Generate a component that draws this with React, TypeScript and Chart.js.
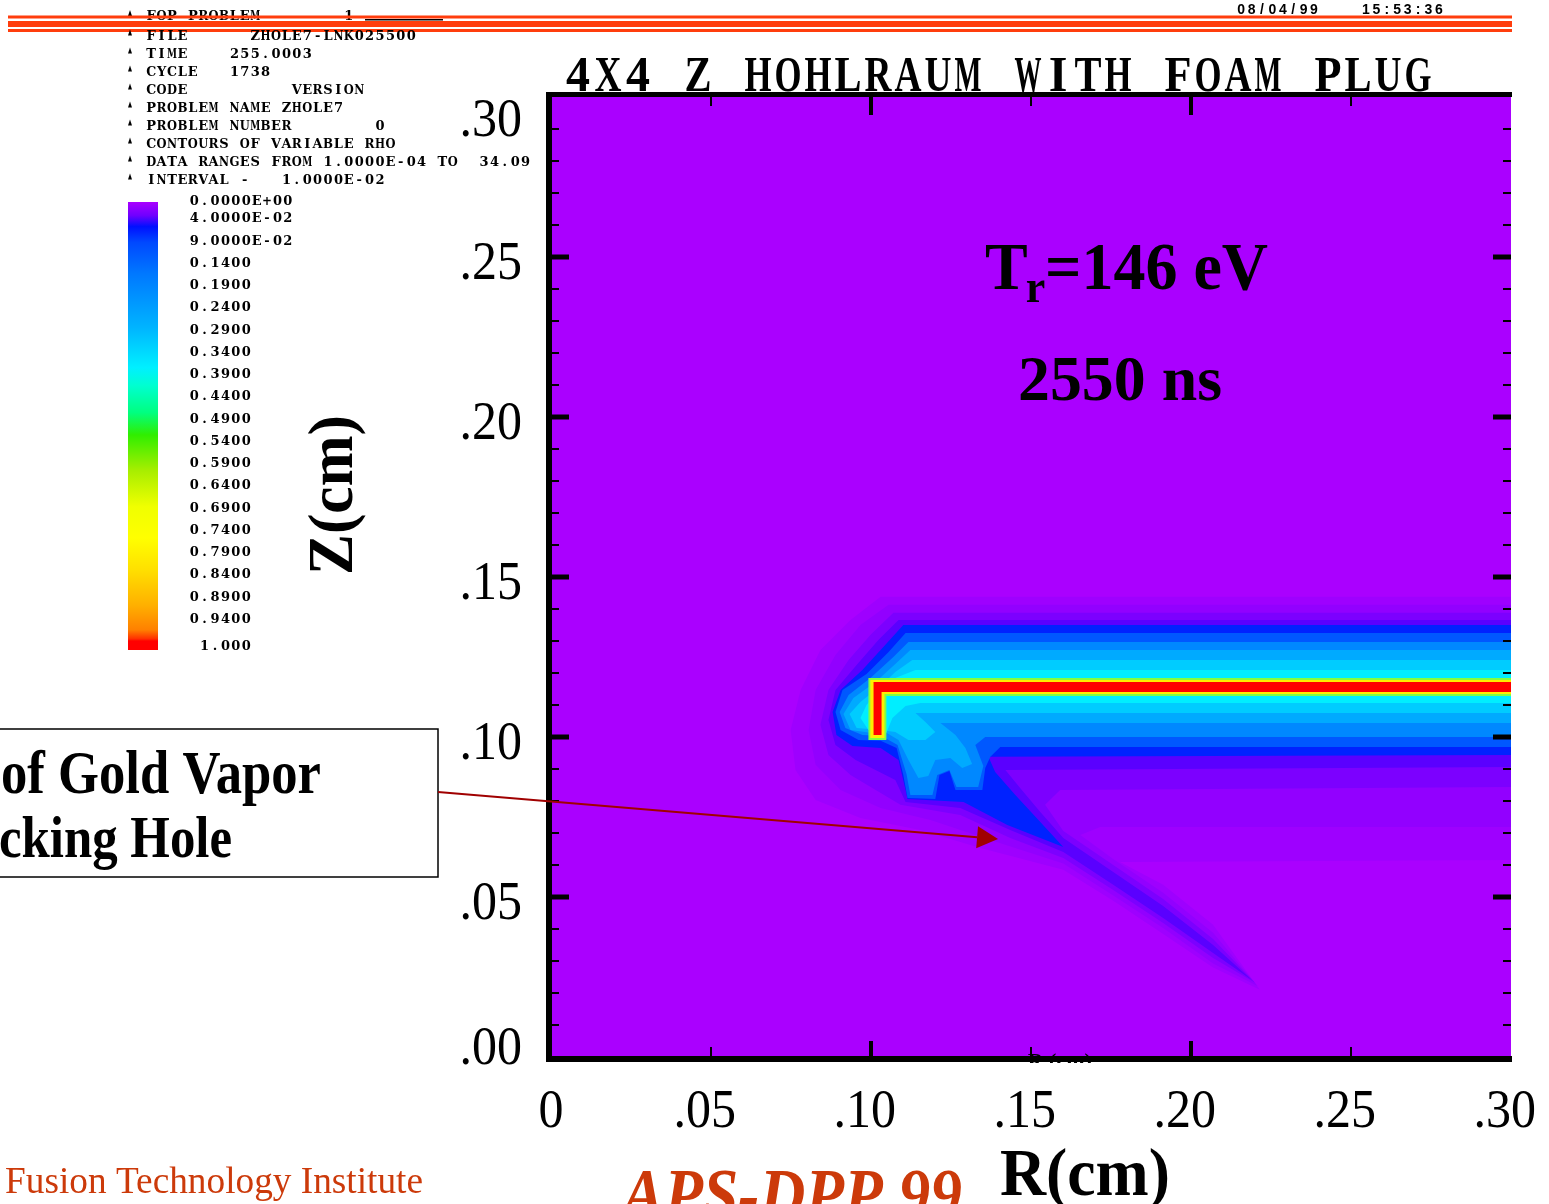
import React, { useEffect, useRef } from "react";
import { Chart, registerables } from "chart.js";

Chart.register(...registerables);

// ---------------- axes ----------------
const rTickValues = [0, 0.05, 0.1, 0.15, 0.2, 0.25, 0.3];
const rTickLabels = ["0", ".05", ".10", ".15", ".20", ".25", ".30"];
const zTickValues = [0, 0.05, 0.1, 0.15, 0.2, 0.25, 0.3];
const zTickLabels = [".00", ".05", ".10", ".15", ".20", ".25", ".30"];

// ---------------- colour legend (RHO) ----------------
const rhoLegendValues = [0, 0.04, 0.09, 0.14, 0.19, 0.24, 0.29, 0.34, 0.39, 0.44, 0.49, 0.54, 0.59, 0.64, 0.69, 0.74, 0.79, 0.84, 0.89, 0.94, 1.0];
const rhoLegendLabels = ["0.0000E+00", "4.0000E-02", "9.0000E-02", "0.1400", "0.1900", "0.2400", "0.2900", "0.3400", "0.3900", "0.4400", "0.4900", "0.5400", "0.5900", "0.6400", "0.6900", "0.7400", "0.7900", "0.8400", "0.8900", "0.9400", " 1.000"];
const rhoColorStopValues = [0, 0.03, 0.055, 0.09, 0.16, 0.28, 0.37, 0.41, 0.47, 0.52, 0.6, 0.68, 0.75, 0.82, 0.9, 0.955, 0.975, 0.98, 1];
const rhoColorStopColors = ["#aa00ff", "#7000ff", "#0010ff", "#0048ff", "#0078ff", "#00b4ff", "#00f0ff", "#00ffd0", "#00ff80", "#30ee00", "#a8ee00", "#f0ff00", "#ffff00", "#ffe000", "#ffb000", "#ff8000", "#ff3000", "#ff0000", "#ff0000"];

// ---------------- run information ----------------
const headerLine = "FOP PROBLEM        1";
const runDate = "08/04/99    15:53:36";
const runInfo = [
  "FILE      ZHOLE7-LNK025500",
  "TIME    255.0003",
  "CYCLE   1738",
  "CODE          VERSION",
  "PROBLEM NAME ZHOLE7",
  "PROBLEM NUMBER        0",
  "CONTOURS OF VARIABLE RHO",
  "DATA RANGES FROM 1.0000E-04 TO  34.09",
  "INTERVAL -   1.0000E-02",
];
const plotTitle = "4X4 Z HOHLRAUM WITH FOAM PLUG";

// ---------------- density contour regions [R(cm), Z(cm)] ----------------
const contour1 = [[0.30,0.1438],[0.1030,0.1438],[0.0936,0.1366],[0.0842,0.1272],[0.0780,0.1147],[0.0749,0.1022],[0.0764,0.0897],[0.0827,0.0803],[0.0967,0.0747],[0.1154,0.0709],[0.1342,0.0653],[0.1601,0.0585],[0.1757,0.0488],[0.1913,0.0384],[0.2069,0.0280],[0.2215,0.0210],[0.2069,0.0413],[0.1913,0.0538],[0.1778,0.0609],[0.30,0.0616]];
const contour2 = [[0.30,0.1413],[0.1055,0.1413],[0.0967,0.1350],[0.0889,0.1256],[0.0827,0.1147],[0.0805,0.1022],[0.0827,0.0913],[0.0905,0.0834],[0.1030,0.0778],[0.1186,0.0741],[0.1373,0.0678],[0.1601,0.0605],[0.1757,0.0505],[0.1913,0.0403],[0.2069,0.0292],[0.2208,0.0222],[0.2069,0.0388],[0.1913,0.0513],[0.1757,0.0619],[0.1654,0.0694],[0.1716,0.0719],[0.30,0.0719]];
const contour3 = [[0.30,0.1388],[0.1070,0.1388],[0.0998,0.1319],[0.0930,0.1241],[0.0867,0.1147],[0.0842,0.1038],[0.0867,0.0944],[0.0936,0.0881],[0.1092,0.0788],[0.1279,0.0756],[0.1435,0.0684],[0.1601,0.0622],[0.1757,0.0522],[0.1913,0.0419],[0.2069,0.0309],[0.2200,0.0232],[0.2069,0.0369],[0.1913,0.0494],[0.1757,0.0600],[0.1601,0.0706],[0.1544,0.0788],[0.1591,0.0834],[0.30,0.0844]];
const contour4 = [[0.30,0.1366],[0.1086,0.1366],[0.1023,0.1303],[0.0955,0.1225],[0.0889,0.1147],[0.0867,0.1053],[0.0889,0.0975],[0.0952,0.0928],[0.1076,0.0866],[0.1108,0.0797],[0.1279,0.0778],[0.1435,0.0709],[0.1601,0.0641],[0.1757,0.0538],[0.1913,0.0434],[0.2069,0.0325],[0.2190,0.0241],[0.2069,0.0350],[0.1913,0.0472],[0.1757,0.0578],[0.1601,0.0684],[0.1529,0.0766],[0.1466,0.0841],[0.1420,0.0897],[0.30,0.0906]];
const contour5 = [[0.30,0.1350],[0.1101,0.1350],[0.1045,0.1288],[0.0973,0.1209],[0.0905,0.1147],[0.0880,0.1078],[0.0892,0.1006],[0.0942,0.0972],[0.1030,0.0966],[0.1086,0.0928],[0.1108,0.0834],[0.1114,0.0806],[0.1289,0.0797],[0.1426,0.0725],[0.1601,0.0656],[0.1529,0.0734],[0.1451,0.0819],[0.1388,0.0891],[0.1367,0.0938],[0.30,0.0944]];
const contour6 = [[0.30,0.1325],[0.1108,0.1325],[0.1055,0.1266],[0.0986,0.1197],[0.0911,0.1147],[0.0889,0.1078],[0.0905,0.1022],[0.0961,0.0991],[0.1030,0.0988],[0.1080,0.0966],[0.1101,0.0881],[0.1114,0.0809],[0.1201,0.0806],[0.1214,0.0881],[0.1245,0.0894],[0.1264,0.0834],[0.1348,0.0834],[0.1357,0.0903],[0.1373,0.0938],[0.1404,0.0969],[0.30,0.0969]];
const contour7 = [[0.30,0.1297],[0.1117,0.1297],[0.1070,0.1250],[0.0998,0.1184],[0.0930,0.1131],[0.0902,0.1078],[0.0920,0.1028],[0.0973,0.1006],[0.1033,0.1003],[0.1083,0.0975],[0.1111,0.0884],[0.1123,0.0819],[0.1192,0.0819],[0.1207,0.0881],[0.1245,0.0897],[0.1267,0.0844],[0.1335,0.0844],[0.1351,0.0909],[0.1326,0.0975],[0.1357,0.1000],[0.30,0.1000]];
const contour8 = [[0.30,0.1272],[0.1123,0.1272],[0.1076,0.1228],[0.1014,0.1172],[0.0945,0.1122],[0.0914,0.1072],[0.0936,0.1022],[0.0998,0.1013],[0.1048,0.1013],[0.1086,0.0991],[0.1117,0.0928],[0.1148,0.0872],[0.1179,0.0878],[0.1201,0.0928],[0.1248,0.0934],[0.1285,0.0903],[0.1316,0.0916],[0.1295,0.0966],[0.1264,0.1006],[0.1217,0.1044],[0.30,0.1044]];
const contour9 = [[0.30,0.1241],[0.1129,0.1241],[0.1076,0.1203],[0.1030,0.1159],[0.0967,0.1109],[0.0933,0.1072],[0.0955,0.1028],[0.1030,0.1022],[0.1076,0.1016],[0.1117,0.0991],[0.1170,0.0991],[0.1201,0.1016],[0.1170,0.1047],[0.1139,0.1075],[0.30,0.1075]];
const contour10 = [[0.30,0.1209],[0.1139,0.1209],[0.1076,0.1184],[0.1030,0.1153],[0.0986,0.1100],[0.0967,0.1059],[0.0992,0.1022],[0.1048,0.1013],[0.1067,0.1059],[0.1108,0.1097],[0.1154,0.1106],[0.30,0.1106]];
const contour11 = [[0.30,0.1184],[0.0992,0.1184],[0.0992,0.0991],[0.1048,0.0991],[0.1048,0.1128],[0.30,0.1128]];
const contour12 = [[0.30,0.1178],[0.0998,0.1178],[0.0998,0.0997],[0.1042,0.0997],[0.1042,0.1134],[0.30,0.1134]];
const goldWall = [[0.30,0.1172],[0.1008,0.1172],[0.1008,0.1006],[0.1033,0.1006],[0.1033,0.1141],[0.30,0.1141]];

const contourRegions = [contour1, contour2, contour3, contour4, contour5, contour6, contour7, contour8, contour9, contour10, contour11, contour12, goldWall];
const contourColors = ["#9e00ff", "#9200ff", "#7c00ff", "#5a00ff", "#0022ff", "#0058ff", "#0088ff", "#00aaff", "#00ccff", "#00eeff", "#80ff40", "#ffee00", "#ff0000"];

// callout arrow (R, Z in cm)
const arrowTail = { r: -0.0353, z: 0.0828 };
const arrowTip = { r: 0.1397, z: 0.0681 };

// ---------------- drawing helpers ----------------
const SERIF = '"Liberation Serif", "Times New Roman", serif';
const plotBackground = "#aa00ff";
const redLine = "#ff3d0d";
const footerRed = "#cc3a0a";

function monoText(ctx: CanvasRenderingContext2D, text: string, x: number, baseline: number, cell: number, font: string, maxW: number, sy = 1, color = "#000") {
  ctx.save();
  ctx.font = font;
  ctx.fillStyle = color;
  ctx.textAlign = "center";
  ctx.textBaseline = "alphabetic";
  for (let i = 0; i < text.length; i++) {
    const ch = text[i];
    if (ch === " ") continue;
    const w = ctx.measureText(ch).width;
    const s = w > maxW ? maxW / w : 1;
    ctx.save();
    ctx.translate(x + cell * i + cell / 2, baseline);
    ctx.scale(s, sy);
    ctx.fillText(ch, 0, 0);
    ctx.restore();
  }
  ctx.restore();
}

function boxText(ctx: CanvasRenderingContext2D, text: string, font: string, left: number, right: number, capTop: number, baseline: number, color: string, capRatio = 0.662) {
  ctx.save();
  ctx.font = font;
  const m = font.match(/(\d+(?:\.\d+)?)px/);
  const size = m ? parseFloat(m[1]) : 16;
  const w = ctx.measureText(text).width;
  const sx = (right - left) / w;
  const sy = (baseline - capTop) / (capRatio * size);
  ctx.translate(left, baseline);
  ctx.scale(sx, sy);
  ctx.fillStyle = color;
  ctx.textAlign = "left";
  ctx.textBaseline = "alphabetic";
  ctx.fillText(text, 0, 0);
  ctx.restore();
}

function stretchText(ctx: CanvasRenderingContext2D, text: string, x: number, baseline: number, font: string, sx: number, sy: number, align: CanvasTextAlign, color: string) {
  ctx.save();
  ctx.font = font;
  ctx.translate(x, baseline);
  ctx.scale(sx, sy);
  ctx.fillStyle = color;
  ctx.textAlign = align;
  ctx.textBaseline = "alphabetic";
  ctx.fillText(text, 0, 0);
  ctx.restore();
}

const decorPlugin = {
  id: "decor",
  beforeDraw(chart: any) {
    const { ctx, chartArea: a } = chart;
    ctx.save();
    ctx.fillStyle = "#ffffff";
    ctx.fillRect(0, 0, chart.width, chart.height);
    ctx.fillStyle = plotBackground;
    ctx.fillRect(a.left, a.top, a.right - a.left, a.bottom - a.top);
    ctx.restore();
  },
  afterDraw(chart: any) {
    const { ctx, chartArea: a } = chart;
    const xs = chart.scales.x;
    const ys = chart.scales.y;
    ctx.save();

    // tiny original axis caption hidden under the bottom frame
    ctx.save();
    ctx.beginPath();
    ctx.rect(0, 0, chart.width, a.bottom + 6);
    ctx.clip();
    stretchText(ctx, "R (cm)", xs.getPixelForValue(0.159), a.bottom + 11, `bold 20px ${SERIF}`, 1.1, 1, "center", "#000");
    ctx.restore();

    // frame
    ctx.fillStyle = "#000";
    ctx.fillRect(a.left - 5, a.top - 5, a.right - a.left + 6, 5);
    ctx.fillRect(a.left - 5, a.top - 5, 6, a.bottom - a.top + 10);
    ctx.fillRect(a.left - 5, a.bottom - 1, a.right - a.left + 6, 6);

    // top / bottom tick marks
    for (const v of rTickValues) {
      if (v <= 0 || v >= 0.3) continue;
      const px = xs.getPixelForValue(v);
      const major = Math.round(v * 100) % 10 === 0;
      const w = major ? 4 : 2;
      ctx.fillRect(px - w / 2, a.top, w, major ? 18 : 9);
      ctx.fillRect(px - w / 2, a.bottom - (major ? 16 : 10), w, major ? 16 : 10);
    }
    // left / right tick marks (every 0.01)
    for (let k = 1; k < 30; k++) {
      const py = ys.getPixelForValue(k / 100);
      const major = k % 5 === 0;
      const h = major ? 5 : 2;
      const len = major ? 18 : 8;
      ctx.fillRect(a.left, py - h / 2, len, h);
      ctx.fillRect(a.right - len, py - h / 2, len, h);
    }

    // tick labels
    const tickFont = `50px ${SERIF}`;
    ctx.font = tickFont;
    zTickValues.forEach((v, i) => {
      const py = ys.getPixelForValue(v);
      const c = Math.min(Math.max(py + 3, a.top + 20), a.bottom - 12);
      stretchText(ctx, zTickLabels[i], a.left - 29, c + 18.5, tickFont, 1, 1.095, "right", "#000");
    });
    rTickValues.forEach((v, i) => {
      const px = xs.getPixelForValue(v);
      const lab = rTickLabels[i];
      ctx.font = tickFont;
      const dot = lab.startsWith(".") ? ctx.measureText(".").width : 0;
      const digits = ctx.measureText(lab.replace(".", "")).width;
      stretchText(ctx, lab, px - digits / 2 - dot, 1127, tickFont, 1, 1.095, "left", "#000");
    });

    // title
    monoText(ctx, plotTitle, 563, 91, 30, `bold 48px ${SERIF}`, 27, 1.04);

    // header block with red rules
    monoText(ctx, runDate, 1236, 14, 10.4, `bold 14px "Liberation Sans", sans-serif`, 9.5);
    const infoFont = `bold 13px "DejaVu Serif", serif`;
    const bullet = (y: number) => {
      ctx.beginPath();
      ctx.moveTo(130, y - 10);
      ctx.lineTo(128, y - 4);
      ctx.lineTo(132, y - 4);
      ctx.closePath();
      ctx.fill();
    };
    ctx.fillStyle = "#000";
    bullet(20);
    monoText(ctx, headerLine, 146, 20, 10.4, infoFont, 10);
    ctx.fillStyle = "#000";
    ctx.fillRect(365, 19, 78, 1.5);
    ctx.fillStyle = redLine;
    ctx.fillRect(8, 15.5, 1504, 3);
    ctx.fillRect(8, 21, 1504, 6);
    ctx.fillRect(8, 29, 1504, 3);
    runInfo.forEach((line, i) => {
      const base = 39.5 + i * 18;
      ctx.fillStyle = "#000";
      bullet(base);
      monoText(ctx, line, 146, base, 10.4, infoFont, 10);
    });

    // colour bar
    const cbTop = 202, cbH = 448;
    const g = ctx.createLinearGradient(0, cbTop, 0, cbTop + cbH);
    rhoColorStopValues.forEach((v, i) => g.addColorStop(v, rhoColorStopColors[i]));
    ctx.fillStyle = g;
    ctx.fillRect(128, cbTop, 30, cbH);
    rhoLegendValues.forEach((v, i) => {
      const c = 200 + v * 445;
      monoText(ctx, rhoLegendLabels[i], 189, c + 4.5, 10.4, infoFont, 10);
    });

    // Z(cm) axis title
    ctx.save();
    ctx.translate(352, 495);
    ctx.rotate(-Math.PI / 2);
    ctx.font = `bold 64px ${SERIF}`;
    const zw = ctx.measureText("Z(cm)").width;
    ctx.scale(160 / zw, 42 / (0.662 * 64));
    ctx.fillStyle = "#000";
    ctx.textAlign = "center";
    ctx.textBaseline = "alphabetic";
    ctx.fillText("Z(cm)", 0, 0);
    ctx.restore();

    // R(cm) axis title
    boxText(ctx, "R(cm)", `bold 64px ${SERIF}`, 1000, 1170, 1150, 1195, "#000");

    // annotations
    ctx.font = `bold 64px ${SERIF}`;
    const tW = ctx.measureText("T").width;
    stretchText(ctx, "T", 985, 289, `bold 64px ${SERIF}`, 1, 1.06, "left", "#000");
    stretchText(ctx, "r", 985 + tW - 2, 302, `bold 44px ${SERIF}`, 1, 1.06, "left", "#000");
    stretchText(ctx, "=146 eV", 1268, 289, `bold 64px ${SERIF}`, 1, 1.06, "right", "#000");
    boxText(ctx, "2550 ns", `bold 64px ${SERIF}`, 1018, 1222, 357, 400, "#000", 0.676);

    // callout box
    ctx.strokeStyle = "#000";
    ctx.lineWidth = 1.5;
    ctx.strokeRect(-5, 729, 443, 148);
    boxText(ctx, "of Gold Vapor", `bold 56px ${SERIF}`, 1, 321, 753, 793, "#000");
    boxText(ctx, "cking Hole", `bold 56px ${SERIF}`, -1, 232, 818, 857, "#000");

    // arrow
    const x0 = xs.getPixelForValue(arrowTail.r), y0 = ys.getPixelForValue(arrowTail.z);
    const x1 = xs.getPixelForValue(arrowTip.r), y1 = ys.getPixelForValue(arrowTip.z);
    const ang = Math.atan2(y1 - y0, x1 - x0);
    const hl = 21, hw = 11;
    const bx = x1 - hl * Math.cos(ang), by = y1 - hl * Math.sin(ang);
    ctx.strokeStyle = "#a00000";
    ctx.lineWidth = 2;
    ctx.beginPath();
    ctx.moveTo(x0, y0);
    ctx.lineTo(bx, by);
    ctx.stroke();
    ctx.fillStyle = "#a00000";
    ctx.beginPath();
    ctx.moveTo(x1, y1);
    ctx.lineTo(bx - hw * Math.sin(ang), by + hw * Math.cos(ang));
    ctx.lineTo(bx + hw * Math.sin(ang), by - hw * Math.cos(ang));
    ctx.closePath();
    ctx.fill();

    // footer
    boxText(ctx, "Fusion Technology Institute", `34px ${SERIF}`, 5, 423, 1168, 1193, footerRed);
    boxText(ctx, "APS-DPP 99", `italic bold 64px ${SERIF}`, 622, 962, 1170, 1218, footerRed);

    ctx.restore();
  },
};

export default function App() {
  const ref = useRef<HTMLCanvasElement>(null);
  useEffect(() => {
    const canvas = ref.current;
    if (!canvas) return;
    const n = contourRegions.length;
    const datasets = contourRegions.map((pts, i) => ({
      label: `rho level ${i + 1}`,
      data: pts.map(([x, y]) => ({ x, y })),
      showLine: true,
      fill: "shape",
      backgroundColor: contourColors[i],
      borderColor: contourColors[i],
      borderWidth: 0,
      pointRadius: 0,
      pointHoverRadius: 0,
      tension: 0,
      order: n - i,
    }));
    const chart = new Chart(canvas, {
      type: "line",
      data: { datasets } as any,
      options: {
        animation: false,
        responsive: false,
        devicePixelRatio: 1,
        events: [],
        layout: { padding: { left: 0, right: 38, top: 97, bottom: 0 } },
        plugins: { legend: { display: false }, tooltip: { enabled: false }, title: { display: false } },
        scales: {
          x: {
            type: "linear",
            min: 0,
            max: 0.3,
            grid: { display: false },
            border: { display: false },
            ticks: { display: false },
            afterFit: (s: any) => { s.height = 147; },
          },
          y: {
            type: "linear",
            min: 0,
            max: 0.3,
            grid: { display: false },
            border: { display: false },
            ticks: { display: false },
            afterFit: (s: any) => { s.width = 551; },
          },
        },
      } as any,
      plugins: [decorPlugin],
    });
    return () => chart.destroy();
  }, []);
  return (
    <div style={{ position: "absolute", left: 0, top: 0, width: 1549, height: 1204, background: "#fff", overflow: "hidden" }}>
      <canvas ref={ref} width={1549} height={1204} style={{ display: "block", width: 1549, height: 1204 }} />
    </div>
  );
}
